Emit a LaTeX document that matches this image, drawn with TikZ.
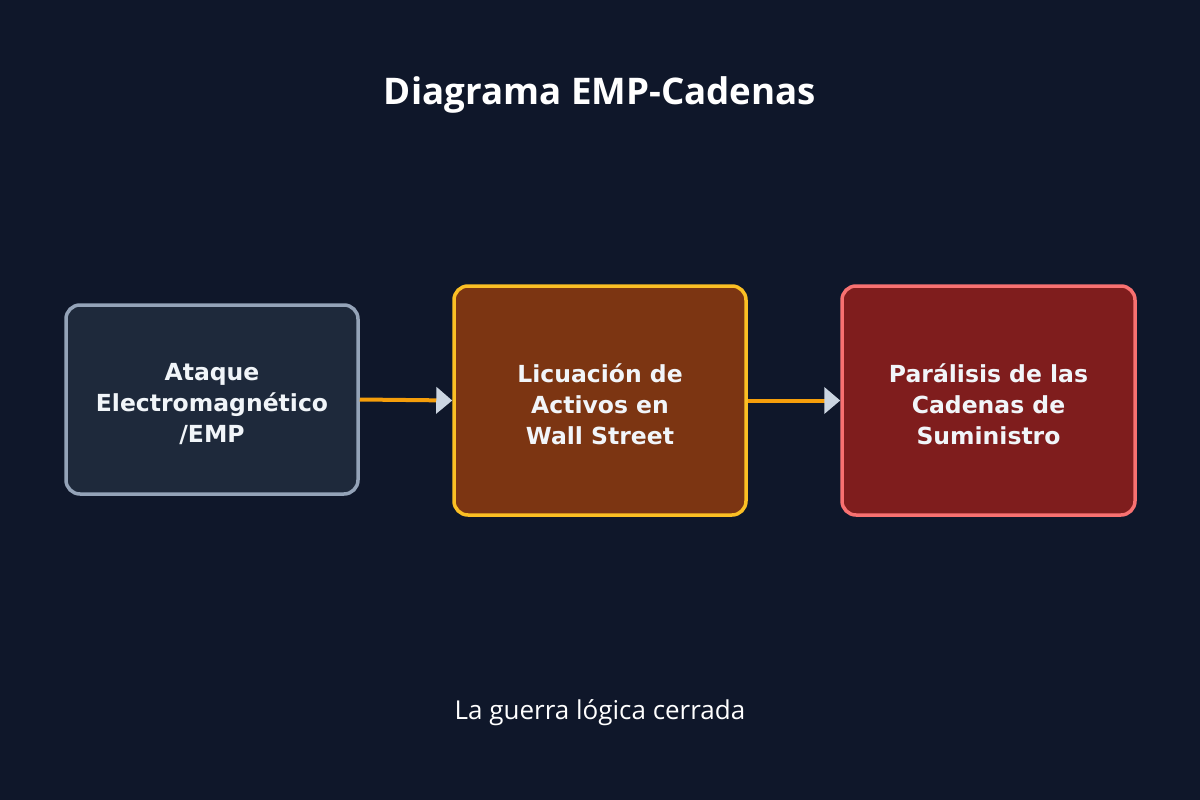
\documentclass[tikz,border=0pt]{standalone}
\usepackage{fontspec}
\setmainfont{DejaVu Sans}
\newfontfamily\ttl{Open Sans}
\usetikzlibrary{arrows.meta}
\definecolor{bg}{HTML}{0F172A}
\definecolor{f1}{HTML}{1E293B}\definecolor{s1}{HTML}{94A3B8}
\definecolor{f2}{HTML}{7C3512}\definecolor{s2}{HTML}{FBBF24}
\definecolor{f3}{HTML}{7F1D1D}\definecolor{s3}{HTML}{F87171}
\definecolor{ln}{HTML}{F59E0B}\definecolor{hd}{HTML}{CBD5E1}
\definecolor{tx}{HTML}{F1F5F9}
\newcommand{\tstr}{\rule{0pt}{26pt}}
\begin{document}
\begin{tikzpicture}[x=1pt,y=-1pt,
 box/.style={rounded corners=14pt,line width=3.5pt,align=center,text=tx,
   font=\fontsize{23.5}{31}\selectfont\bfseries,inner sep=0pt},
 con/.style={draw=ln,line width=4pt,-{Triangle[fill=hd,color=hd,length=16pt,width=26pt]},shorten >=0pt}]
\fill[bg] (0,0) rectangle (1200,800);
\useasboundingbox (0,0) rectangle (1200,800);
\node[text=white,font=\ttl\fontsize{36.7}{40}\selectfont\bfseries] (t) at (600,95) {Diagrama EMP-Cadenas};
\node[box,fill=f1,draw=s1,minimum width=292pt,minimum height=189pt] (a) at (212,399.5) {\tstr Ataque\\Electromagnético\\/EMP};
\node[box,fill=f2,draw=s2,minimum width=292pt,minimum height=229pt] (b) at (600,400.5) {\tstr Licuación de\\Activos en\\Wall Street};
\node[box,fill=f3,draw=s3,minimum width=293pt,minimum height=229pt] (c) at (988.5,400.5) {\tstr Parálisis de las\\Cadenas de\\Suministro};
\draw[con] (a.east) -- (b.west);
\draw[con] (b.east) -- (c.west);
\node[text=white,font=\ttl\fontsize{26}{30}\selectfont] (f) at (600,713) {La guerra lógica cerrada};
\end{tikzpicture}
\end{document}
